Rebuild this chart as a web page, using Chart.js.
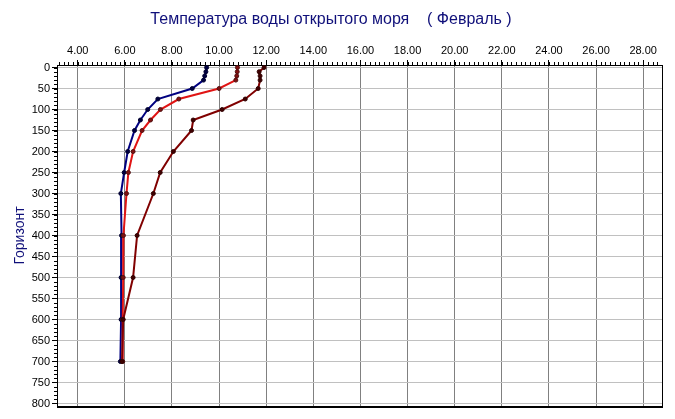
<!DOCTYPE html>
<html>
<head>
<meta charset="utf-8">
<title>Температура воды открытого моря</title>
<script src="https://cdn.jsdelivr.net/npm/chart.js@4/dist/chart.umd.min.js"></script>
<style>
  html, body { margin: 0; padding: 0; background: #fff; }
  #wrap { width: 675px; height: 419px; }
</style>
</head>
<body>
<div id="wrap"><canvas id="tempChart" width="675" height="419"></canvas></div>
<script>
// горизонты (м)
const depths = [0, 10, 20, 30, 50, 75, 100, 125, 150, 200, 250, 300, 400, 500, 600, 700];
// температура по трём кривым
const tempNavy   = [9.47, 9.44, 9.39, 9.34, 8.86, 7.40, 6.97, 6.66, 6.41, 6.12, 5.97, 5.83, 5.86, 5.84, 5.84, 5.81];
const tempRed    = [10.78, 10.77, 10.75, 10.71, 10.00, 8.29, 7.51, 7.09, 6.73, 6.35, 6.15, 6.07, 5.94, 5.93, 5.91, 5.91];
const tempMaroon = [11.91, 11.70, 11.74, 11.74, 11.66, 11.11, 10.13, 8.90, 8.83, 8.06, 7.50, 7.21, 6.52, 6.35, 5.93, 5.88];
// подписи осей
const xTickValues = [4, 6, 8, 10, 12, 14, 16, 18, 20, 22, 24, 26, 28];
const yTickValues = [0, 50, 100, 150, 200, 250, 300, 350, 400, 450, 500, 550, 600, 650, 700, 750, 800];

const toPoints = (temps) => temps.map((t, i) => ({ x: t, y: depths[i] }));

// рамка справа/снизу и мелкие засечки
const frameAndMinorTicks = {
    id: 'frameAndMinorTicks',
    afterDraw(chart) {
        const { ctx, chartArea: a, scales } = chart;
        ctx.save();
        ctx.strokeStyle = '#000';
        ctx.lineWidth = 1;
        ctx.beginPath();
        for (let i = 16; i <= 144; i++) {          // шаг 0.2 по X
            const px = Math.round(scales.x.getPixelForValue(i / 5)) + 0.5;
            if (px < a.left || px > a.right) continue;
            ctx.moveTo(px, a.top);
            ctx.lineTo(px, a.top - 3);
        }
        for (let d = 0; d <= 800; d += 10) {       // шаг 10 по Y
            const py = Math.round(scales.y.getPixelForValue(d)) + 0.5;
            ctx.moveTo(a.left, py);
            ctx.lineTo(a.left - 3, py);
        }
        ctx.stroke();

        ctx.beginPath();
        ctx.moveTo(a.right + 0.5, a.top);
        ctx.lineTo(a.right + 0.5, a.bottom);
        ctx.stroke();
        ctx.lineWidth = 2;
        ctx.beginPath();
        ctx.moveTo(a.left, a.bottom + 1);
        ctx.lineTo(a.right + 1, a.bottom + 1);
        ctx.stroke();
        ctx.restore();
    }
};

const tickFont = { family: '"Liberation Sans", Arial, sans-serif', size: 11 };

new Chart(document.getElementById('tempChart'), {
    type: 'line',
    data: {
        datasets: [
            {
                label: 'navy',
                data: toPoints(tempNavy),
                borderColor: '#000080',
                backgroundColor: '#000040',
                pointBackgroundColor: '#000040',
                pointBorderColor: '#000030',
                order: 3
            },
            {
                label: 'red',
                data: toPoints(tempRed),
                borderColor: '#e01414',
                backgroundColor: '#801010',
                pointBackgroundColor: '#801010',
                pointBorderColor: '#501010',
                order: 2
            },
            {
                label: 'maroon',
                data: toPoints(tempMaroon),
                borderColor: '#800000',
                backgroundColor: '#400000',
                pointBackgroundColor: '#400000',
                pointBorderColor: '#300000',
                order: 1
            }
        ]
    },
    options: {
        responsive: false,
        animation: false,
        devicePixelRatio: 1,
        layout: { padding: { left: 0, right: 13, top: 0, bottom: 13 } },
        elements: {
            line: { borderWidth: 2, tension: 0 },
            point: { radius: 2, borderWidth: 1 }
        },
        plugins: {
            legend: { display: false },
            tooltip: { enabled: false },
            title: {
                display: true,
                text: 'Температура воды открытого моря    ( Февраль )',
                color: '#10107a',
                font: { family: '"Liberation Sans", Arial, sans-serif', size: 16, weight: 'normal', lineHeight: 1.25 },
                padding: { top: 10, bottom: 0 }
            }
        },
        scales: {
            x: {
                type: 'linear',
                position: 'top',
                min: 3.12,
                max: 28.8,
                afterBuildTicks: (scale) => { scale.ticks = xTickValues.map(v => ({ value: v })); },
                afterFit: (scale) => { scale.height = 35; },
                ticks: {
                    color: '#000',
                    font: tickFont,
                    padding: 2,
                    maxRotation: 0,
                    callback: (v) => Number(v).toFixed(2)
                },
                grid: { color: '#808080', tickColor: '#000', tickLength: 5 },
                border: { color: '#000', width: 1 }
            },
            y: {
                type: 'linear',
                reverse: true,
                min: -6,
                max: 806,
                afterBuildTicks: (scale) => { scale.ticks = yTickValues.map(v => ({ value: v })); },
                afterFit: (scale) => { scale.width = 57; },
                ticks: { color: '#000', font: tickFont, padding: 2 },
                grid: { color: '#c0c0c0', tickColor: '#000', tickLength: 5 },
                border: { color: '#000', width: 1 },
                title: {
                    display: true,
                    text: 'Горизонт',
                    color: '#10107a',
                    font: { family: '"Liberation Sans", Arial, sans-serif', size: 14 },
                    padding: { top: 12, bottom: 0 }
                }
            }
        }
    },
    plugins: [frameAndMinorTicks]
});
</script>
</body>
</html>
